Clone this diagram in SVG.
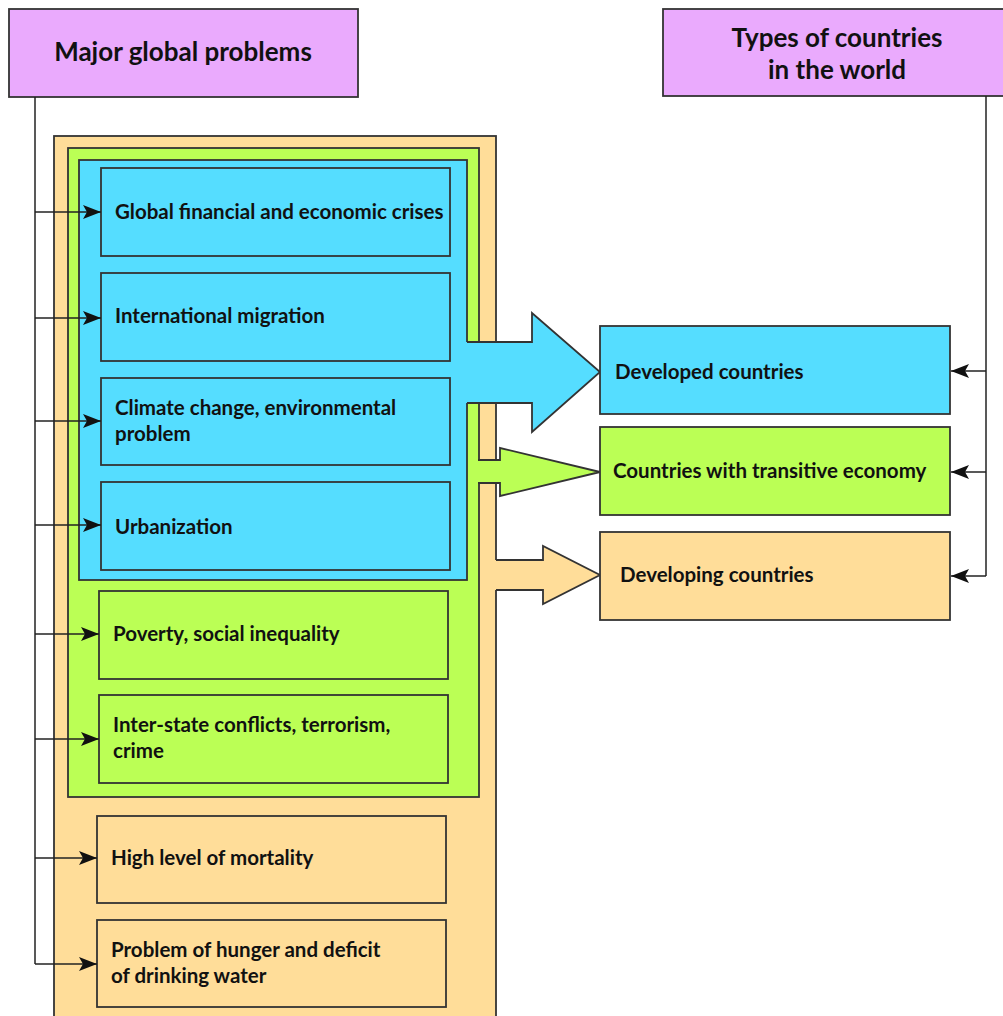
<svg xmlns="http://www.w3.org/2000/svg" width="1003" height="1016" viewBox="0 0 1003 1016">
<defs>
<style>
.hdr{fill:#EAAAFD;stroke:#333;stroke-width:1.8}
.blue{fill:#55DDFF;stroke:#333;stroke-width:1.8}
.green{fill:#BBFF55;stroke:#333;stroke-width:1.8}
.orange{fill:#FFDD99;stroke:#333;stroke-width:1.8}
.t{font-family:Lato,"Open Sans","Liberation Sans",sans-serif;font-weight:bold;font-size:20.5px;fill:#111}
.th{font-family:Lato,"Open Sans","Liberation Sans",sans-serif;font-weight:bold;font-size:26px;fill:#111;text-anchor:middle}
.ln{fill:none;stroke:#222;stroke-width:1.5}
.edge{stroke:#333;stroke-width:1.8;fill:none;stroke-linejoin:miter}
</style>
<marker id="ah" viewBox="0 0 18 14" refX="18" refY="7" markerWidth="18" markerHeight="14" markerUnits="userSpaceOnUse" orient="auto">
<path d="M0,0 L18,7 L0,14 L4,7 z" fill="#111"/>
</marker>
</defs>
<rect width="1003" height="1016" fill="#fff"/>

<g id="header-problems">
<rect class="hdr" x="9" y="9" width="349" height="88"/>
<text class="th" x="183" y="61">Major global problems</text>
</g>
<g id="header-types">
<rect class="hdr" x="663" y="9" width="345" height="87"/>
<text class="th" x="837" y="47">Types of countries</text>
<text class="th" x="837" y="79">in the world</text>
</g>

<g id="container-developing">
<rect class="orange" x="54" y="136" width="442" height="900"/>
</g>
<g id="container-transitive">
<rect class="green" x="68" y="148" width="411" height="649"/>
</g>
<g id="container-developed">
<rect class="blue" x="79" y="160" width="388" height="420"/>
</g>

<g id="big-arrows">
<path d="M465,342 L532,342 L532,313 L600,372 L532,432 L532,403 L465,403 Z" fill="#55DDFF"/>
<path class="edge" d="M467,342 L532,342 L532,313 L600,372 L532,432 L532,403 L467,403"/>
<path d="M476,460 L500,460 L500,448 L600,472 L500,496 L500,483 L476,483 Z" fill="#BBFF55"/>
<path class="edge" d="M478,460 L500,460 L500,448 L600,472 L500,496 L500,483 L478,483"/>
<path d="M494,560 L543,560 L543,546 L600,575 L543,604 L543,590 L494,590 Z" fill="#FFDD99"/>
<path class="edge" d="M496,560 L543,560 L543,546 L600,575 L543,604 L543,590 L496,590"/>
</g>

<g id="node-crises">
<rect class="blue" x="101" y="168" width="349" height="88"/>
<text class="t" x="115" y="219">Global financial and economic crises</text>
</g>
<g id="node-migration">
<rect class="blue" x="101" y="273" width="349" height="88"/>
<text class="t" x="115" y="323">International migration</text>
</g>
<g id="node-climate">
<rect class="blue" x="101" y="378" width="349" height="87"/>
<text class="t" x="115" y="415">Climate change, environmental</text>
<text class="t" x="115" y="441">problem</text>
</g>
<g id="node-urban">
<rect class="blue" x="101" y="482" width="349" height="88"/>
<text class="t" x="115" y="534">Urbanization</text>
</g>
<g id="node-poverty">
<rect class="green" x="99" y="591" width="349" height="88"/>
<text class="t" x="113" y="641">Poverty, social inequality</text>
</g>
<g id="node-conflicts">
<rect class="green" x="99" y="695" width="349" height="88"/>
<text class="t" x="113" y="732">Inter-state conflicts, terrorism,</text>
<text class="t" x="113" y="758">crime</text>
</g>
<g id="node-mortality">
<rect class="orange" x="97" y="816" width="349" height="87"/>
<text class="t" x="111" y="865">High level of mortality</text>
</g>
<g id="node-hunger">
<rect class="orange" x="97" y="920" width="349" height="87"/>
<text class="t" x="111" y="957">Problem of hunger and deficit</text>
<text class="t" x="111" y="983">of drinking water</text>
</g>

<g id="node-developed">
<rect class="blue" x="600" y="326" width="350" height="88"/>
<text class="t" x="615" y="379">Developed countries</text>
</g>
<g id="node-transitive">
<rect class="green" x="600" y="427" width="350" height="88"/>
<text class="t" x="613" y="478">Countries with transitive economy</text>
</g>
<g id="node-developing">
<rect class="orange" x="600" y="532" width="350" height="88"/>
<text class="t" x="620" y="582">Developing countries</text>
</g>

<g id="connectors">
<path class="ln" d="M35,97 V964"/>
<path class="ln" d="M35,212 H101" marker-end="url(#ah)"/>
<path class="ln" d="M35,318 H101" marker-end="url(#ah)"/>
<path class="ln" d="M35,421 H101" marker-end="url(#ah)"/>
<path class="ln" d="M35,525 H101" marker-end="url(#ah)"/>
<path class="ln" d="M35,634 H99" marker-end="url(#ah)"/>
<path class="ln" d="M35,739 H99" marker-end="url(#ah)"/>
<path class="ln" d="M35,858 H97" marker-end="url(#ah)"/>
<path class="ln" d="M35,964 H97" marker-end="url(#ah)"/>
<path class="ln" d="M986,96 V576"/>
<path class="ln" d="M986,371 H951" marker-end="url(#ah)"/>
<path class="ln" d="M986,472 H951" marker-end="url(#ah)"/>
<path class="ln" d="M986,576 H951" marker-end="url(#ah)"/>
</g>
</svg>
